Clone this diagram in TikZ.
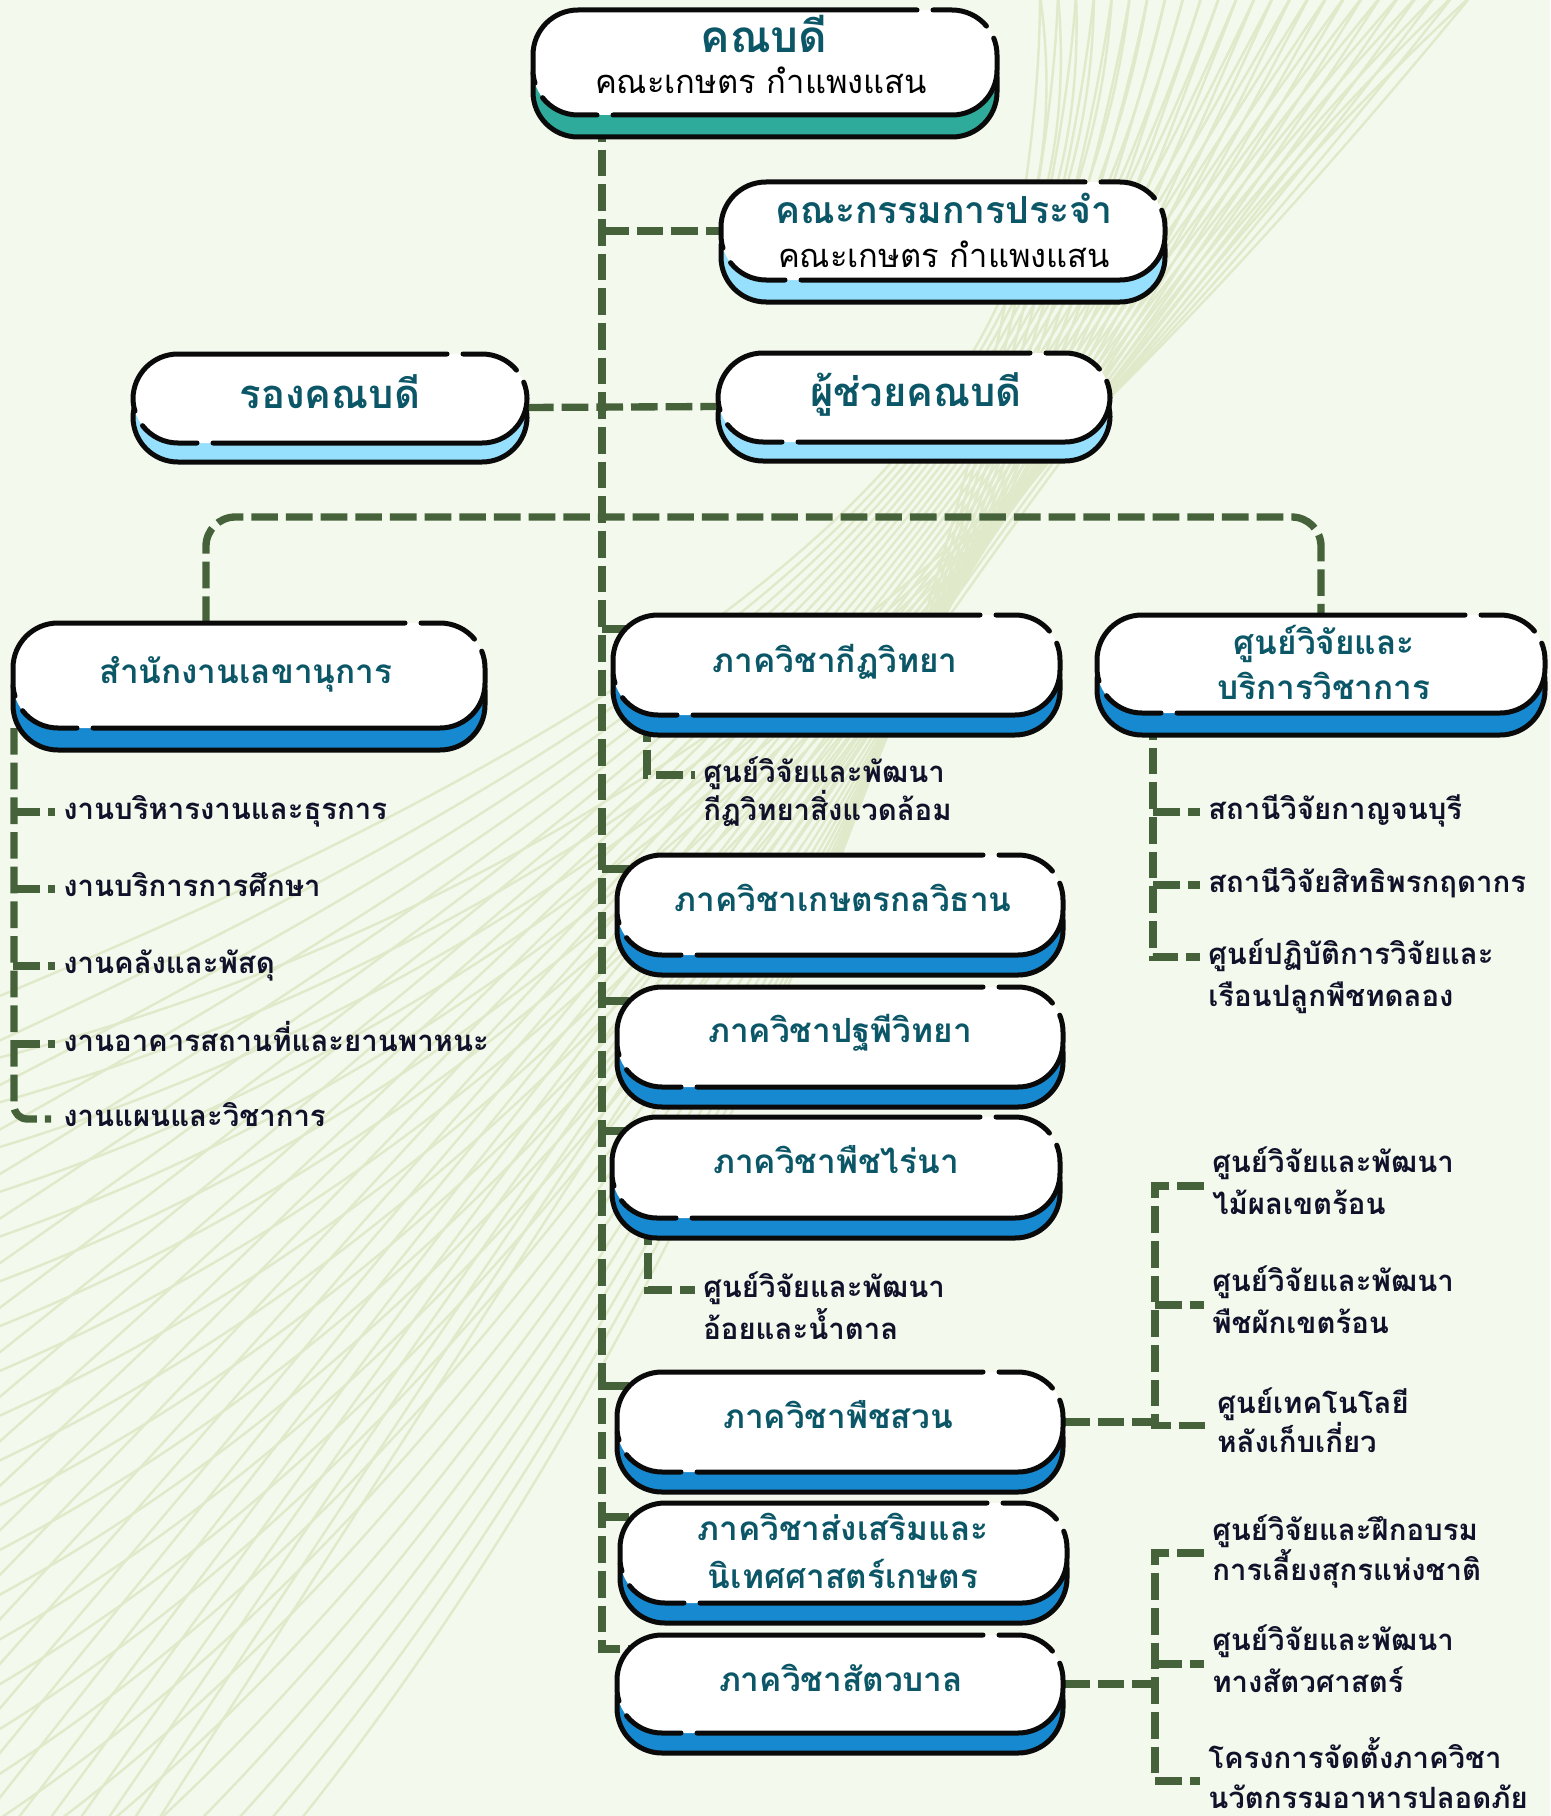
\documentclass[tikz,border=0pt]{standalone}
\usepackage{fontspec}
\newfontfamily\thaifont[Script=Thai]{Loma}
\usetikzlibrary{calc}

\definecolor{pagebg}{HTML}{F3F9EC}
\definecolor{waveline}{HTML}{E0E9C9}
\definecolor{linkgreen}{HTML}{46623A}
\definecolor{outline}{HTML}{0A0A0A}
\definecolor{headteal}{HTML}{2EAB9B}
\definecolor{skyblue}{HTML}{96E0FE}
\definecolor{deptblue}{HTML}{1789D0}
\definecolor{titleteal}{HTML}{0C5767}
\definecolor{itemink}{HTML}{10122A}

\pgfdeclarelayer{decor}
\pgfdeclarelayer{links}
\pgfsetlayers{decor,links,main}

\tikzset{every picture/.style={line width=0.75pt}}
\tikzset{
  boxline/.style={draw=outline, line width=3.75pt, line cap=round},
  face/.style={fill=white, rounded corners=33.75pt, inner sep=0pt, outer sep=0pt},
  link/.style={draw=linkgreen, line width=5.5pt, dash pattern=on 20pt off 6pt},
  wave/.style={draw=waveline, line width=1.8pt},
  title/.style={font=\thaifont\bfseries\fontsize{25}{30}\selectfont, text=titleteal, inner sep=0pt, text height=16.5pt, text depth=4pt},
  bigtitle/.style={title, font=\thaifont\bfseries\fontsize{33}{40}\selectfont, text height=20pt, text depth=3.5pt},
  midtitle/.style={title, font=\thaifont\bfseries\fontsize{28}{34}\selectfont, text height=17.5pt, text depth=3.5pt},
  bosstitle/.style={title, font=\thaifont\bfseries\fontsize{30}{36}\selectfont, text height=18.75pt, text depth=3.75pt},
  subtitle/.style={font=\thaifont\fontsize{24.5}{30}\selectfont, text=black, inner sep=0pt, text height=15.5pt, text depth=3.2pt},
  item/.style={font=\thaifont\bfseries\fontsize{22}{28}\selectfont, text=itemink, anchor=west, inner xsep=6pt, inner ysep=0pt, text height=14.7pt, text depth=3.7pt},
}

% pill box: name, x1, y1, x2, y2 (face), shadow colour, shadow depth
\newcommand{\pillbox}[7]{%
  \draw[boxline, fill=#6, rounded corners=33.75pt] ({#2},{#3+#7}) rectangle ({#4},{#5+#7});
  \node[face, minimum width={(#4-#2)*0.75pt}, minimum height={(#5-#3)*0.75pt}] (#1) at ({(#2+#4)/2},{(#3+#5)/2}) {};
  \draw[boxline] ({#2+45},{#5-45}) ++(163:45) arc[start angle=163, end angle=180, radius=45] -- ({#2},{#3+45}) arc[start angle=180, end angle=270, radius=45] -- ({#4-80},{#3});
  \draw[boxline] ({#4-64},{#3}) -- ({#4-45},{#3}) arc[start angle=270, end angle=320, radius=45];
  \draw[boxline] ({#4-45},{#3+45}) ++(338:45) arc[start angle=338, end angle=360, radius=45] -- ({#4},{#5-45}) arc[start angle=0, end angle=90, radius=45] -- ({#2+80},{#5});
  \draw[boxline] ({#2+64},{#5}) -- ({#2+45},{#5}) arc[start angle=90, end angle=142, radius=45];
}

\begin{document}
\begin{tikzpicture}[x=0.75pt,y=0.75pt,yscale=-1,xscale=1]
\useasboundingbox (0,0) rectangle (1550,1816);

%Background and wave lines
\begin{pgfonlayer}{decor}
\fill[pagebg] (0,0) rectangle (1550,1816);
\begin{scope}
\clip (0,0) rectangle (1550,1816);
\foreach \i in {0,...,24}
  \draw[wave] ({1040+18*\i},-5) .. controls (1090,350) and (860,{640+4*\i}) .. (-10,{1000+45*\i});
\foreach \i in {0,...,24}
  \draw[wave] ({1472-18*\i},-5) .. controls (1040,520) and (620,{900+30*\i}) .. (-10,{1060+45*\i});
\end{scope}
\end{pgfonlayer}

%Shape: Pill boxes
\pillbox{dean}{533}{10}{997}{115}{headteal}{22}
\pillbox{council}{721}{182}{1165}{280}{skyblue}{22}
\pillbox{vicedean}{133}{354}{527}{443}{skyblue}{19}
\pillbox{assistdean}{718}{353}{1110}{442}{skyblue}{19}
\pillbox{secretariat}{13}{623}{485}{728}{deptblue}{22}
\pillbox{ento}{613}{615}{1060}{715}{deptblue}{20}
\pillbox{centre}{1097}{615}{1545}{713}{deptblue}{22}
\pillbox{agmech}{617}{855}{1063}{955}{deptblue}{20}
\pillbox{soil}{617}{987}{1063}{1087}{deptblue}{20}
\pillbox{agron}{612}{1117}{1060}{1218}{deptblue}{20}
\pillbox{horti}{617}{1372}{1063}{1472}{deptblue}{20}
\pillbox{extension}{620}{1503}{1067}{1603}{deptblue}{20}
\pillbox{animal}{617}{1635}{1063}{1733}{deptblue}{20}

% Text Node
\draw (764,42) node[bigtitle] (deantitle) {คณบดี};
% Text Node
\draw (761,85) node[subtitle] (deansub) {คณะเกษตร กำแพงแสน};
% Text Node
\draw (944,214) node[midtitle] (counciltitle) {คณะกรรมการประจำ};
% Text Node
\draw (944,259) node[subtitle] (councilsub) {คณะเกษตร กำแพงแสน};
% Text Node
\draw (330,398) node[bosstitle] (vicetitle) {รองคณบดี};
% Text Node
\draw (916,396) node[bosstitle] (assisttitle) {ผู้ช่วยคณบดี};
% Text Node
\draw (246,675) node[title] (sectitle) {สำนักงานเลขานุการ};
% Text Node
\draw (835,664) node[title] (entotitle) {ภาควิชากีฏวิทยา};
% Text Node
\draw (1324,646) node[title] (centretitle1) {ศูนย์วิจัยและ};
\draw (1324,691) node[title] (centretitle2) {บริการวิชาการ};
% Text Node
\draw (843,903) node[title] (agmechtitle) {ภาควิชาเกษตรกลวิธาน};
% Text Node
\draw (840,1034) node[title] (soiltitle) {ภาควิชาปฐพีวิทยา};
% Text Node
\draw (836,1165) node[title] (agrontitle) {ภาควิชาพืชไร่นา};
% Text Node
\draw (838,1420) node[title] (hortititle) {ภาควิชาพืชสวน};
% Text Node
\draw (843,1532) node[title] (exttitle1) {ภาควิชาส่งเสริมและ};
\draw (843,1580) node[title] (exttitle2) {นิเทศศาสตร์เกษตร};
% Text Node
\draw (841,1683) node[title] (animaltitle) {ภาควิชาสัตวบาล};

% Text Node: secretariat units
\draw (55,812) node[item] (sec1) {งานบริหารงานและธุรการ};
\draw (55,889) node[item] (sec2) {งานบริการการศึกษา};
\draw (55,966) node[item] (sec3) {งานคลังและพัสดุ};
\draw (55,1044) node[item] (sec4) {งานอาคารสถานที่และยานพาหนะ};
\draw (55,1119) node[item] (sec5) {งานแผนและวิชาการ};
% Text Node: department centres
\draw (695,775) node[item] (entosub1) {ศูนย์วิจัยและพัฒนา};
\draw (695,813) node[item] (entosub2) {กีฏวิทยาสิ่งแวดล้อม};
\draw (695,1290) node[item] (agronsub1) {ศูนย์วิจัยและพัฒนา};
\draw (695,1332) node[item] (agronsub2) {อ้อยและน้ำตาล};
% Text Node: research stations
\draw (1200,812) node[item] (cen1) {สถานีวิจัยกาญจนบุรี};
\draw (1200,885) node[item] (cen2) {สถานีวิจัยสิทธิพรกฤดากร};
\draw (1200,957) node[item] (cen3a) {ศูนย์ปฏิบัติการวิจัยและ};
\draw (1200,999) node[item] (cen3b) {เรือนปลูกพืชทดลอง};
% Text Node: horticulture centres
\draw (1204,1165) node[item] (hort1a) {ศูนย์วิจัยและพัฒนา};
\draw (1204,1207) node[item] (hort1b) {ไม้ผลเขตร้อน};
\draw (1204,1284) node[item] (hort2a) {ศูนย์วิจัยและพัฒนา};
\draw (1204,1326) node[item] (hort2b) {พืชผักเขตร้อน};
\draw (1209,1406) node[item] (hort3a) {ศูนย์เทคโนโลยี};
\draw (1209,1445) node[item] (hort3b) {หลังเก็บเกี่ยว};
% Text Node: animal science centres
\draw (1204,1533) node[item] (anim1a) {ศูนย์วิจัยและฝึกอบรม};
\draw (1204,1573) node[item] (anim1b) {การเลี้ยงสุกรแห่งชาติ};
\draw (1204,1643) node[item] (anim2a) {ศูนย์วิจัยและพัฒนา};
\draw (1204,1685) node[item] (anim2b) {ทางสัตวศาสตร์};
\draw (1200,1761) node[item] (anim3a) {โครงการจัดตั้งภาควิชา};
\draw (1200,1801) node[item] (anim3b) {นวัตกรรมอาหารปลอดภัย};

%Dashed Lines
\begin{pgfonlayer}{links}
\coordinate (trunk) at ($(dean.south west)+(69,0)$);
\coordinate (split) at ($(trunk)+(0,402)$);
\draw[link] (trunk) |- ($(animal.north west)+(30,14)$);
\foreach \dept in {ento,agmech,soil,agron,horti,extension}
  \draw[link] (trunk |- \dept.north) ++(0,14) -- ($(\dept.north west)+(30,14)$);
\draw[link] (trunk |- council.west) -- (council.west);
\draw[link] ($(vicedean.east)+(0,9)$) -- ($(assistdean.west)+(0,9)$);
\draw[link, rounded corners=22pt] ($(secretariat.north west)+(193,0)$) |- (split) -| (centre.north);
%secretariat units
\draw[link, rounded corners=10pt] ($(secretariat.south west)+(1,0)$) |- ($(sec5.west)+(-4,0)$);
\foreach \k in {sec1,sec2,sec3,sec4}
  \draw[link] (secretariat.south west |- \k.west) -- (\k.west);
%department centres
\draw[link] ($(ento.south west)+(34,0)$) |- (entosub1.west);
\draw[link] ($(agron.south west)+(36,0)$) |- (agronsub1.west);
%research stations
\coordinate (cenbus) at ($(centre.south west)+(56,0)$);
\draw[link] (cenbus) |- (cen3a.west);
\draw[link] (cenbus |- cen1.west) -- (cen1.west);
\draw[link] (cenbus |- cen2.west) -- (cen2.west);
%horticulture centres
\coordinate (hortbus) at ($(horti.east)+(92,0)$);
\coordinate (h1) at ($(hort1a.west)!0.5!(hort1b.west)$);
\coordinate (h2) at ($(hort2a.west)!0.5!(hort2b.west)$);
\coordinate (h3) at ($(hort3a.west)!0.5!(hort3b.west)$);
\draw[link] (horti.east) -- (hortbus);
\draw[link] (h1) -| (hortbus |- h3) -- (h3);
\draw[link] (hortbus |- h2) -- (h2);
%animal science centres
\coordinate (animbus) at ($(animal.east)+(92,0)$);
\coordinate (a1) at ($(anim1a.west)!0.5!(anim1b.west)$);
\coordinate (a2) at ($(anim2a.west)!0.5!(anim2b.west)$);
\coordinate (a3) at ($(anim3a.west)!0.5!(anim3b.west)$);
\draw[link] (animal.east) -- (animbus);
\draw[link] (a1) -| (animbus |- a3) -- (a3);
\draw[link] (animbus |- a2) -- (a2);
\end{pgfonlayer}

\end{tikzpicture}
\end{document}
